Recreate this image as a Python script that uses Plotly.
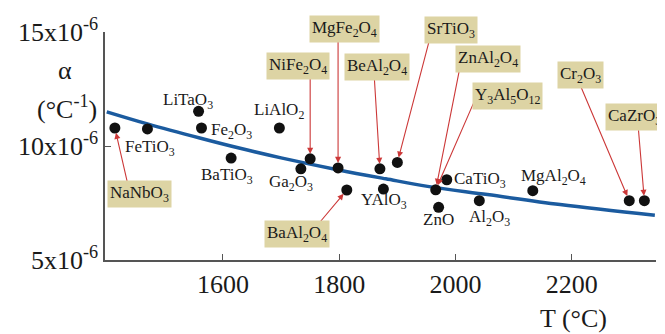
import plotly.graph_objects as go

# ---- data (alpha in units of 1e-6 per degC, T = melting temperature in degC) ----
compounds = ["NaNbO3", "FeTiO3", "LiTaO3", "Fe2O3", "BaTiO3", "LiAlO2", "NiFe2O4",
             "Ga2O3", "MgFe2O4", "BaAl2O4", "BeAl2O4", "YAlO3", "SrTiO3", "ZnAl2O4",
             "CaTiO3", "ZnO", "Al2O3", "MgAl2O4", "Cr2O3", "CaZrO3"]
melt_T = [1414, 1470, 1558, 1563, 1614, 1697, 1750,
          1734, 1798, 1813, 1870, 1876, 1900, 1966,
          1985, 1971, 2041, 2133, 2299, 2325]
alpha = [10.79, 10.75, 11.52, 10.79, 9.47, 10.79, 9.44,
         9.0, 9.04, 8.07, 9.0, 8.11, 9.28, 8.08,
         8.52, 7.31, 7.6, 8.04, 7.6, 7.6]

fit_T = [1400, 1470, 1560, 1626, 1700, 1797, 1880, 1952, 2055, 2180, 2343]
fit_alpha = [11.5, 10.97, 10.35, 9.92, 9.48, 8.96, 8.56, 8.23, 7.87, 7.43, 6.96]

y_ticks = [5, 10, 15]
y_tick_text = ["5x10<sup>-6</sup>", "10x10<sup>-6</sup>", "15x10<sup>-6</sup>"]
x_ticks = [1600, 1800, 2000, 2200]

labels_html = {
    "NaNbO3": "NaNbO<sub>3</sub>", "FeTiO3": "FeTiO<sub>3</sub>", "LiTaO3": "LiTaO<sub>3</sub>",
    "Fe2O3": "Fe<sub>2</sub>O<sub>3</sub>", "BaTiO3": "BaTiO<sub>3</sub>", "LiAlO2": "LiAlO<sub>2</sub>",
    "NiFe2O4": "NiFe<sub>2</sub>O<sub>4</sub>", "Ga2O3": "Ga<sub>2</sub>O<sub>3</sub>",
    "MgFe2O4": "MgFe<sub>2</sub>O<sub>4</sub>", "BaAl2O4": "BaAl<sub>2</sub>O<sub>4</sub>",
    "BeAl2O4": "BeAl<sub>2</sub>O<sub>4</sub>", "YAlO3": "YAlO<sub>3</sub>",
    "SrTiO3": "SrTiO<sub>3</sub>", "ZnAl2O4": "ZnAl<sub>2</sub>O<sub>4</sub>",
    "Y3Al5O12": "Y<sub>3</sub>Al<sub>5</sub>O<sub>12</sub>", "CaTiO3": "CaTiO<sub>3</sub>",
    "ZnO": "ZnO", "Al2O3": "Al<sub>2</sub>O<sub>3</sub>", "MgAl2O4": "MgAl<sub>2</sub>O<sub>4</sub>",
    "Cr2O3": "Cr<sub>2</sub>O<sub>3</sub>", "CaZrO3": "CaZrO<sub>3</sub>",
}

# ---- layout of labels (pixel offsets from the point) ----
plain_offsets = {
    "LiTaO3": (-11, -10), "FeTiO3": (3, 19), "Fe2O3": (30, 3), "BaTiO3": (-4, 18),
    "LiAlO2": (0, -17), "Ga2O3": (-10, 14), "YAlO3": (1, 12), "ZnO": (0, 12),
    "CaTiO3": (33, 0), "Al2O3": (10, 17), "MgAl2O4": (21, -14),
}
# name -> (point compound, box centre offset, arrow tail offset)
boxed = {
    "NaNbO3": ("NaNbO3", (25, 66), (12.6, 55)),
    "NiFe2O4": ("NiFe2O4", (-12, -93), (0, -82)),
    "MgFe2O4": ("MgFe2O4", (6, -139), (0, -128)),
    "BeAl2O4": ("BeAl2O4", (-3, -102), (-5.6, -91)),
    "SrTiO3": ("SrTiO3", (54, -132), (31.7, -121)),
    "ZnAl2O4": ("ZnAl2O4", (52, -131), (23.7, -120)),
    "Y3Al5O12": ("ZnAl2O4", (72, -94), (40.3, -92.4)),
    "Cr2O3": ("Cr2O3", (-49, -126), (-49, -115.4)),
    "CaZrO3": ("CaZrO3", (-10, -84), (-6, -72)),
    "BaAl2O4": ("BaAl2O4", (-50, 44), (-27.6, 33)),
}

SERIF = "Liberation Serif"
TEXT = "#1a1a1a"
TAN = "#ddd4a4"
RED = "#cc3838"

fig = go.Figure()
fig.add_trace(go.Scatter(x=fit_T, y=fit_alpha, mode="lines",
                         line=dict(color="#1b5b9f", width=3.5, shape="spline"),
                         hoverinfo="skip", showlegend=False))
fig.add_trace(go.Scatter(x=melt_T, y=alpha, mode="markers",
                         marker=dict(color="#111111", size=11),
                         text=compounds, showlegend=False))

idx = {c: i for i, c in enumerate(compounds)}
anns = []
for name, (dx, dy) in plain_offsets.items():
    i = idx[name]
    anns.append(dict(x=melt_T[i], y=alpha[i], text=labels_html[name], showarrow=False,
                     xanchor="center", yanchor="middle",
                     xshift=dx, yshift=-dy, font=dict(family=SERIF, size=17, color=TEXT)))
for name, (pt, (bx, by), (tx, ty)) in boxed.items():
    i = idx[pt]
    anns.append(dict(x=melt_T[i], y=alpha[i], text="", showarrow=True,
                     ax=tx, ay=ty, arrowcolor=RED, arrowwidth=1.1, arrowhead=2,
                     arrowsize=1.1, standoff=5))
    anns.append(dict(x=melt_T[i], y=alpha[i], text=labels_html[name], showarrow=False,
                     xanchor="center", yanchor="middle",
                     xshift=bx, yshift=-by, bgcolor=TAN, borderpad=2,
                     font=dict(family=SERIF, size=17, color=TEXT)))

axis_txt = dict(xref="paper", yref="paper", showarrow=False, xanchor="center",
                yanchor="middle", font=dict(family=SERIF, size=26, color=TEXT))
anns.append(dict(axis_txt, x=-0.0726, y=0.829, text="\u03b1"))
anns.append(dict(axis_txt, x=-0.069, y=0.667, text="(\u00b0C<sup>-1</sup>)"))
anns.append(dict(axis_txt, x=0.851, y=-0.256, text="T (\u00b0C)"))

fig.update_layout(
    width=665, height=334,
    margin=dict(l=97, r=17, t=24, b=82, autoexpand=False),
    paper_bgcolor="white", plot_bgcolor="white",
    annotations=anns,
    font=dict(family=SERIF, size=26, color=TEXT),
    xaxis=dict(range=[1397, 2345], tickvals=x_ticks, ticks="inside", ticklen=6,
               tickcolor="#555", showline=True, linecolor="#555", linewidth=1.5,
               showgrid=False, zeroline=False, automargin=False,
               tickfont=dict(family=SERIF, size=26, color=TEXT)),
    yaxis=dict(range=[5, 15], tickvals=y_ticks, ticktext=y_tick_text, ticks="inside",
               ticklen=6, tickcolor="#555", showline=True, linecolor="#555", linewidth=1.5,
               showgrid=False, zeroline=False, automargin=False,
               tickfont=dict(family=SERIF, size=26, color=TEXT)),
)

fig.write_html("out.html")
